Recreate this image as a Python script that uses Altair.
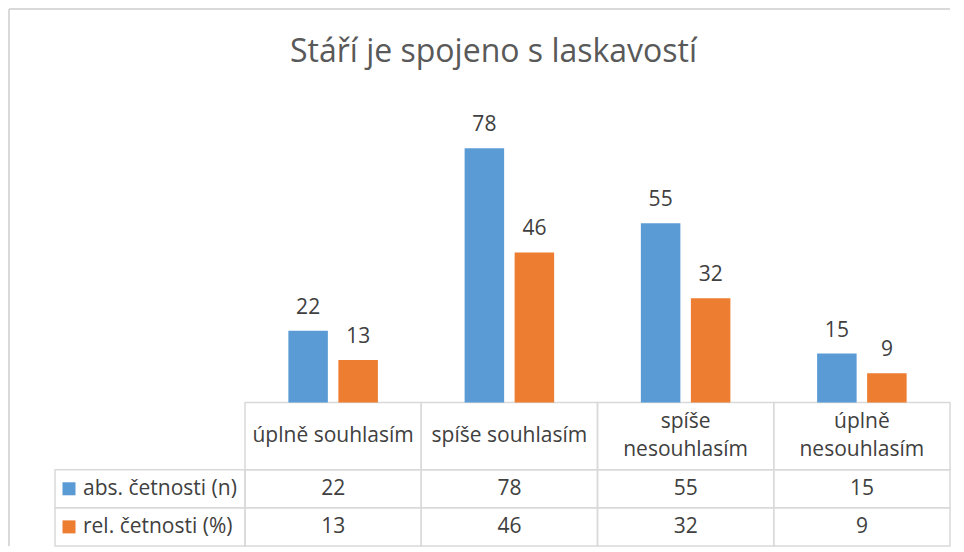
import altair as alt
import pandas as pd

# ---- data ----
categories = ["úplně souhlasím", "spíše souhlasím", "spíše nesouhlasím", "úplně nesouhlasím"]
header_labels = ["úplně souhlasím", "spíše souhlasím", "spíše\nnesouhlasím", "úplně\nnesouhlasím"]
series = ["abs. četnosti (n)", "rel. četnosti (%)"]
abs_values = [22, 78, 55, 15]
rel_values = [13, 46, 32, 9]
title_text = "Stáří je spojeno s laskavostí"

colors = ["#5B9BD5", "#ED7D31"]
GRID = "#D9D9D9"
TXT = "#404040"
FONT = "Open Sans"

rows = []
for c, h, a, r in zip(categories, header_labels, abs_values, rel_values):
    rows.append({"cat": c, "header": h, "series": series[0], "value": a})
    rows.append({"cat": c, "header": h, "series": series[1], "value": r})
df = pd.DataFrame(rows)

# ---- table layout (y in value units, table drawn below zero) ----
Y_DOMAIN = [-44, 90]
H = 437
PX_PER_UNIT = H / (Y_DOMAIN[1] - Y_DOMAIN[0])
W_DATA = 705
W_LABEL = 190
LINE_H = 28
row_names = ["header", series[0], series[1]]
row_top = [0, -20.63, -32.28]
row_bot = [-20.63, -32.28, -44]

cells = pd.DataFrame([
    {"cat": c, "row": rn, "top": t, "bot": b}
    for c in categories for rn, t, b in zip(row_names, row_top, row_bot)
])
left_cells = pd.DataFrame([
    {"series": rn, "top": t, "bot": b}
    for rn, t, b in zip(row_names[1:], row_top[1:], row_bot[1:])
])
hdr = pd.DataFrame({"cat": categories, "header": header_labels,
                    "nlines": [len(h.split("\n")) for h in header_labels],
                    "top": [row_top[0]] * 4, "bot": [row_bot[0]] * 4})

yscale = alt.Scale(domain=Y_DOMAIN, nice=False, zero=False)
xscale = alt.Scale(domain=categories, paddingInner=0, paddingOuter=0)
oscale = alt.Scale(domain=series, paddingInner=0.21, paddingOuter=0.867)
cscale = alt.Scale(domain=series, range=colors)

X = alt.X("cat:N", scale=xscale, axis=None, sort=categories)

bars = alt.Chart(df).mark_bar().encode(
    x=X,
    xOffset=alt.XOffset("series:N", scale=oscale, sort=series),
    y=alt.Y("value:Q", scale=yscale, axis=None),
    color=alt.Color("series:N", scale=cscale, legend=None),
)

bar_labels = alt.Chart(df).mark_text(font=FONT, fontSize=21, color=TXT, baseline="alphabetic", dy=-17).encode(
    x=X,
    xOffset=alt.XOffset("series:N", scale=oscale, sort=series),
    y=alt.Y("value:Q", scale=yscale, axis=None),
    text="value:Q",
)

grid_cells = alt.Chart(cells).mark_rect(fill=None, stroke=GRID, strokeWidth=1.5).encode(
    x=X,
    y=alt.Y("top:Q", scale=yscale, axis=None),
    y2="bot:Q",
)

header_text = alt.Chart(hdr).transform_calculate(
    mid=f"(datum.top + datum.bot) / 2 + (datum.nlines - 1) * {LINE_H / 2 / PX_PER_UNIT}"
).mark_text(
    font=FONT, fontSize=21, color=TXT, lineBreak="\n", lineHeight=LINE_H, baseline="middle"
).encode(
    x=X,
    y=alt.Y("mid:Q", scale=yscale, axis=None),
    text="header:N",
)

ROW_Y_EXPR = (f"datum.series == '{series[0]}' ? {(row_top[1] + row_bot[1]) / 2} : "
              f"{(row_top[2] + row_bot[2]) / 2}")

cell_text = alt.Chart(df).transform_calculate(rowy=ROW_Y_EXPR).mark_text(
    font=FONT, fontSize=21, color=TXT, baseline="middle"
).encode(
    x=X,
    y=alt.Y("rowy:Q", scale=yscale, axis=None),
    text="value:Q",
)

right = alt.layer(grid_cells, bars, bar_labels, header_text, cell_text).properties(
    width=W_DATA, height=H,
    title=alt.TitleParams(
        text=title_text, font=FONT, fontSize=32, fontWeight="normal", color="#595959",
        anchor="middle", frame="group", baseline="alphabetic", offset=15, dx=-104,
    ),
)

# ---- left label column ----
lbase = alt.Chart(left_cells).transform_calculate(rowy="(datum.top + datum.bot) / 2")
left_grid = alt.Chart(left_cells).mark_rect(fill=None, stroke=GRID, strokeWidth=1.5).encode(
    x=alt.value(0), x2=alt.value(W_LABEL),
    y=alt.Y("top:Q", scale=yscale, axis=None),
    y2="bot:Q",
)
squares = lbase.mark_square(size=169, opacity=1).encode(
    x=alt.value(14),
    y=alt.Y("rowy:Q", scale=yscale, axis=None),
    color=alt.Color("series:N", scale=cscale, legend=None),
)
labels = lbase.mark_text(font=FONT, fontSize=21, color=TXT, align="left", baseline="middle").encode(
    x=alt.value(28),
    y=alt.Y("rowy:Q", scale=yscale, axis=None),
    text="series:N",
)
# outer chart-area frame (left and top edges)
frame_left = alt.Chart(left_cells).mark_rule(color=GRID, strokeWidth=2).encode(
    x=alt.value(-46), y=alt.value(-100), y2=alt.value(H), detail="series:N"
)
frame_top = alt.Chart(left_cells).mark_rule(color=GRID, strokeWidth=2).encode(
    x=alt.value(-46), x2=alt.value(W_LABEL + W_DATA), y=alt.value(-100), detail="series:N"
)

left = alt.layer(left_grid, squares, labels, frame_left, frame_top).properties(
    width=W_LABEL, height=H
)

chart = alt.hconcat(left, right, spacing=0, bounds="flush").properties(
    padding=0,
    background="white",
).configure_view(stroke=None)

chart.save("out.html", embed_options={"renderer": "svg", "actions": False})
